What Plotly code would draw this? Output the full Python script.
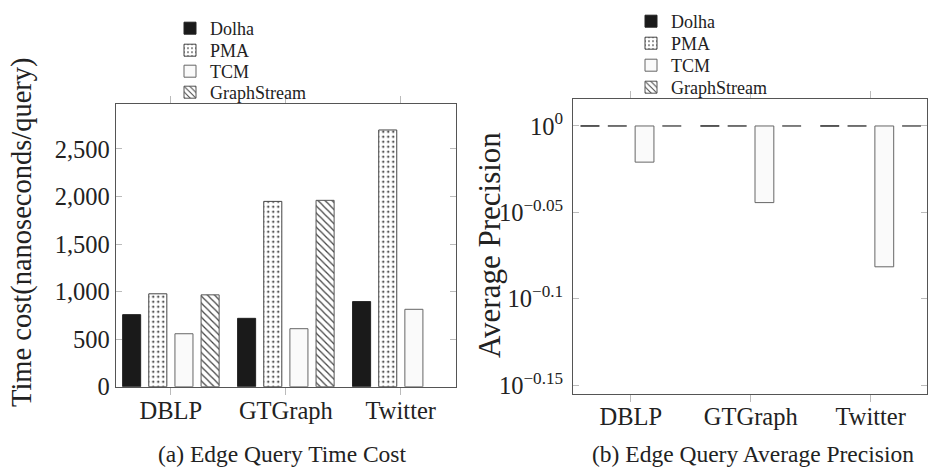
import plotly.graph_objects as go

categories = ["DBLP", "GTGraph", "Twitter"]
series_names = ["Dolha", "PMA", "TCM", "GraphStream"]

time_dolha = [758, 719, 895]
time_pma = [977, 1949, 2700]
time_tcm = [557, 610, 814]
time_graphstream = [966, 1960, None]

prec_dolha = [1.0, 1.0, 1.0]
prec_pma = [1.0, 1.0, 1.0]
prec_tcm = [0.953, 0.903, 0.829]
prec_graphstream = [1.0, 1.0, 1.0]

time_ticks = [0, 500, 1000, 1500, 2000, 2500]
prec_tick_exps = ["0", "\u22120.05", "\u22120.1", "\u22120.15"]
prec_tick_vals = [1.0, 10 ** -0.05, 10 ** -0.1, 10 ** -0.15]

W, H = 928, 467
FONT = "Liberation Serif"
TXT = "#222222"

styles = {
    "Dolha": dict(color="#1a1a1a", line=dict(color="#222222", width=1)),
    "PMA": dict(color="white", line=dict(color="#444444", width=1),
                pattern=dict(shape=".", size=5, solidity=0.12, fgcolor="black", bgcolor="white")),
    "TCM": dict(color="#fafafa", line=dict(color="#666666", width=1)),
    "GraphStream": dict(color="white", line=dict(color="#555555", width=1),
                        pattern=dict(shape="\\", size=5, solidity=0.25, fgcolor="#444444", bgcolor="white")),
}

time_vals = [time_dolha, time_pma, time_tcm, time_graphstream]
prec_vals = [prec_dolha, prec_pma, prec_tcm, prec_graphstream]

left_legends = ["legend2", "legend3", "legend4", "legend5"]
right_legends = ["legend6", "legend7", "legend8", "legend9"]

fig = go.Figure()
for name, vals, lg in zip(series_names, time_vals, left_legends):
    fig.add_trace(go.Bar(x=categories, y=vals, name=name, marker=styles[name],
                         xaxis="x", yaxis="y", legend=lg, showlegend=True))
for name, vals, lg in zip(series_names, prec_vals, right_legends):
    fig.add_trace(go.Bar(x=categories, y=[v - 1.0 for v in vals], base=1.0, name=name,
                         marker=styles[name], xaxis="x2", yaxis="y2", legend=lg, showlegend=True))

def px_x(p):
    return p / W

def px_y(p):
    return (H - p) / H

axis_common = dict(showline=True, linecolor="#555555", linewidth=1, mirror="ticks",
                   tickcolor="#bbbbbb", tickwidth=1, showgrid=False, zeroline=False,
                   automargin=False,
                   tickfont=dict(family=FONT, size=24.5, color=TXT))

legend_common = dict(xanchor="left", yanchor="top", font=dict(family=FONT, size=18, color=TXT),
                     bgcolor="rgba(0,0,0,0)", borderwidth=0, tracegroupgap=0, itemclick=False)

legend_layout = {}
for i, lg in enumerate(left_legends):
    legend_layout[lg] = dict(x=px_x(170), y=px_y([10, 32, 53, 74][i]), **legend_common)
for i, lg in enumerate(right_legends):
    legend_layout[lg] = dict(x=px_x(631), y=px_y([3, 25, 47, 69][i]), **legend_common)

fig.update_layout(
    template="none",
    showlegend=True,
    width=W, height=H, margin=dict(l=0, r=0, t=0, b=0, autoexpand=False),
    paper_bgcolor="white", plot_bgcolor="white",
    barmode="group", bargap=0.09, bargroupgap=0.31,
    font=dict(family=FONT, color=TXT),
    xaxis=dict(domain=[px_x(115.7), px_x(456)], type="category", range=[-0.48, 2.48],
               ticks="outside", ticklen=7, anchor="y", ticklabelstandoff=-5, **axis_common),
    yaxis=dict(domain=[px_y(386.7), px_y(104.3)], range=[0, 2970], tickvals=time_ticks,
               tickformat=",", ticks="inside", ticklen=6, anchor="x", ticklabelstandoff=0,
               **axis_common),
    xaxis2=dict(domain=[px_x(573), px_x(927)], type="category", range=[-0.483, 2.47],
                ticks="outside", ticklen=7, anchor="y2", ticklabelstandoff=-6, **axis_common),
    yaxis2=dict(domain=[px_y(394), px_y(99)], type="log", range=[-0.155, 0.0156],
                tickvals=prec_tick_vals,
                ticktext=["10<sup>%s</sup>" % e for e in prec_tick_exps],
                ticks="inside", ticklen=6, anchor="x2", ticklabelstandoff=4, **axis_common),
    annotations=[
        dict(text="Time cost(nanoseconds/query)", x=px_x(22), y=px_y(232), xref="paper", yref="paper",
             xanchor="center", yanchor="middle",
             textangle=-90, showarrow=False, font=dict(family=FONT, size=28.5, color=TXT)),
        dict(text="Average Precision", x=px_x(490), y=px_y(245), xref="paper", yref="paper",
             xanchor="center", yanchor="middle",
             textangle=-90, showarrow=False, font=dict(family=FONT, size=31, color=TXT)),
        dict(text="(a) Edge Query Time Cost", x=px_x(282), y=px_y(454), xref="paper", yref="paper",
             xanchor="center", yanchor="middle",
             showarrow=False, font=dict(family=FONT, size=23.5, color=TXT)),
        dict(text="(b) Edge Query Average Precision", x=px_x(753), y=px_y(454), xref="paper", yref="paper",
             xanchor="center", yanchor="middle",
             showarrow=False, font=dict(family=FONT, size=23.5, color=TXT)),
    ],
    **legend_layout,
)

fig.write_html("out.html", config={"displayModeBar": False},
               post_script="document.body.style.margin='0';document.body.style.overflow='hidden';")
